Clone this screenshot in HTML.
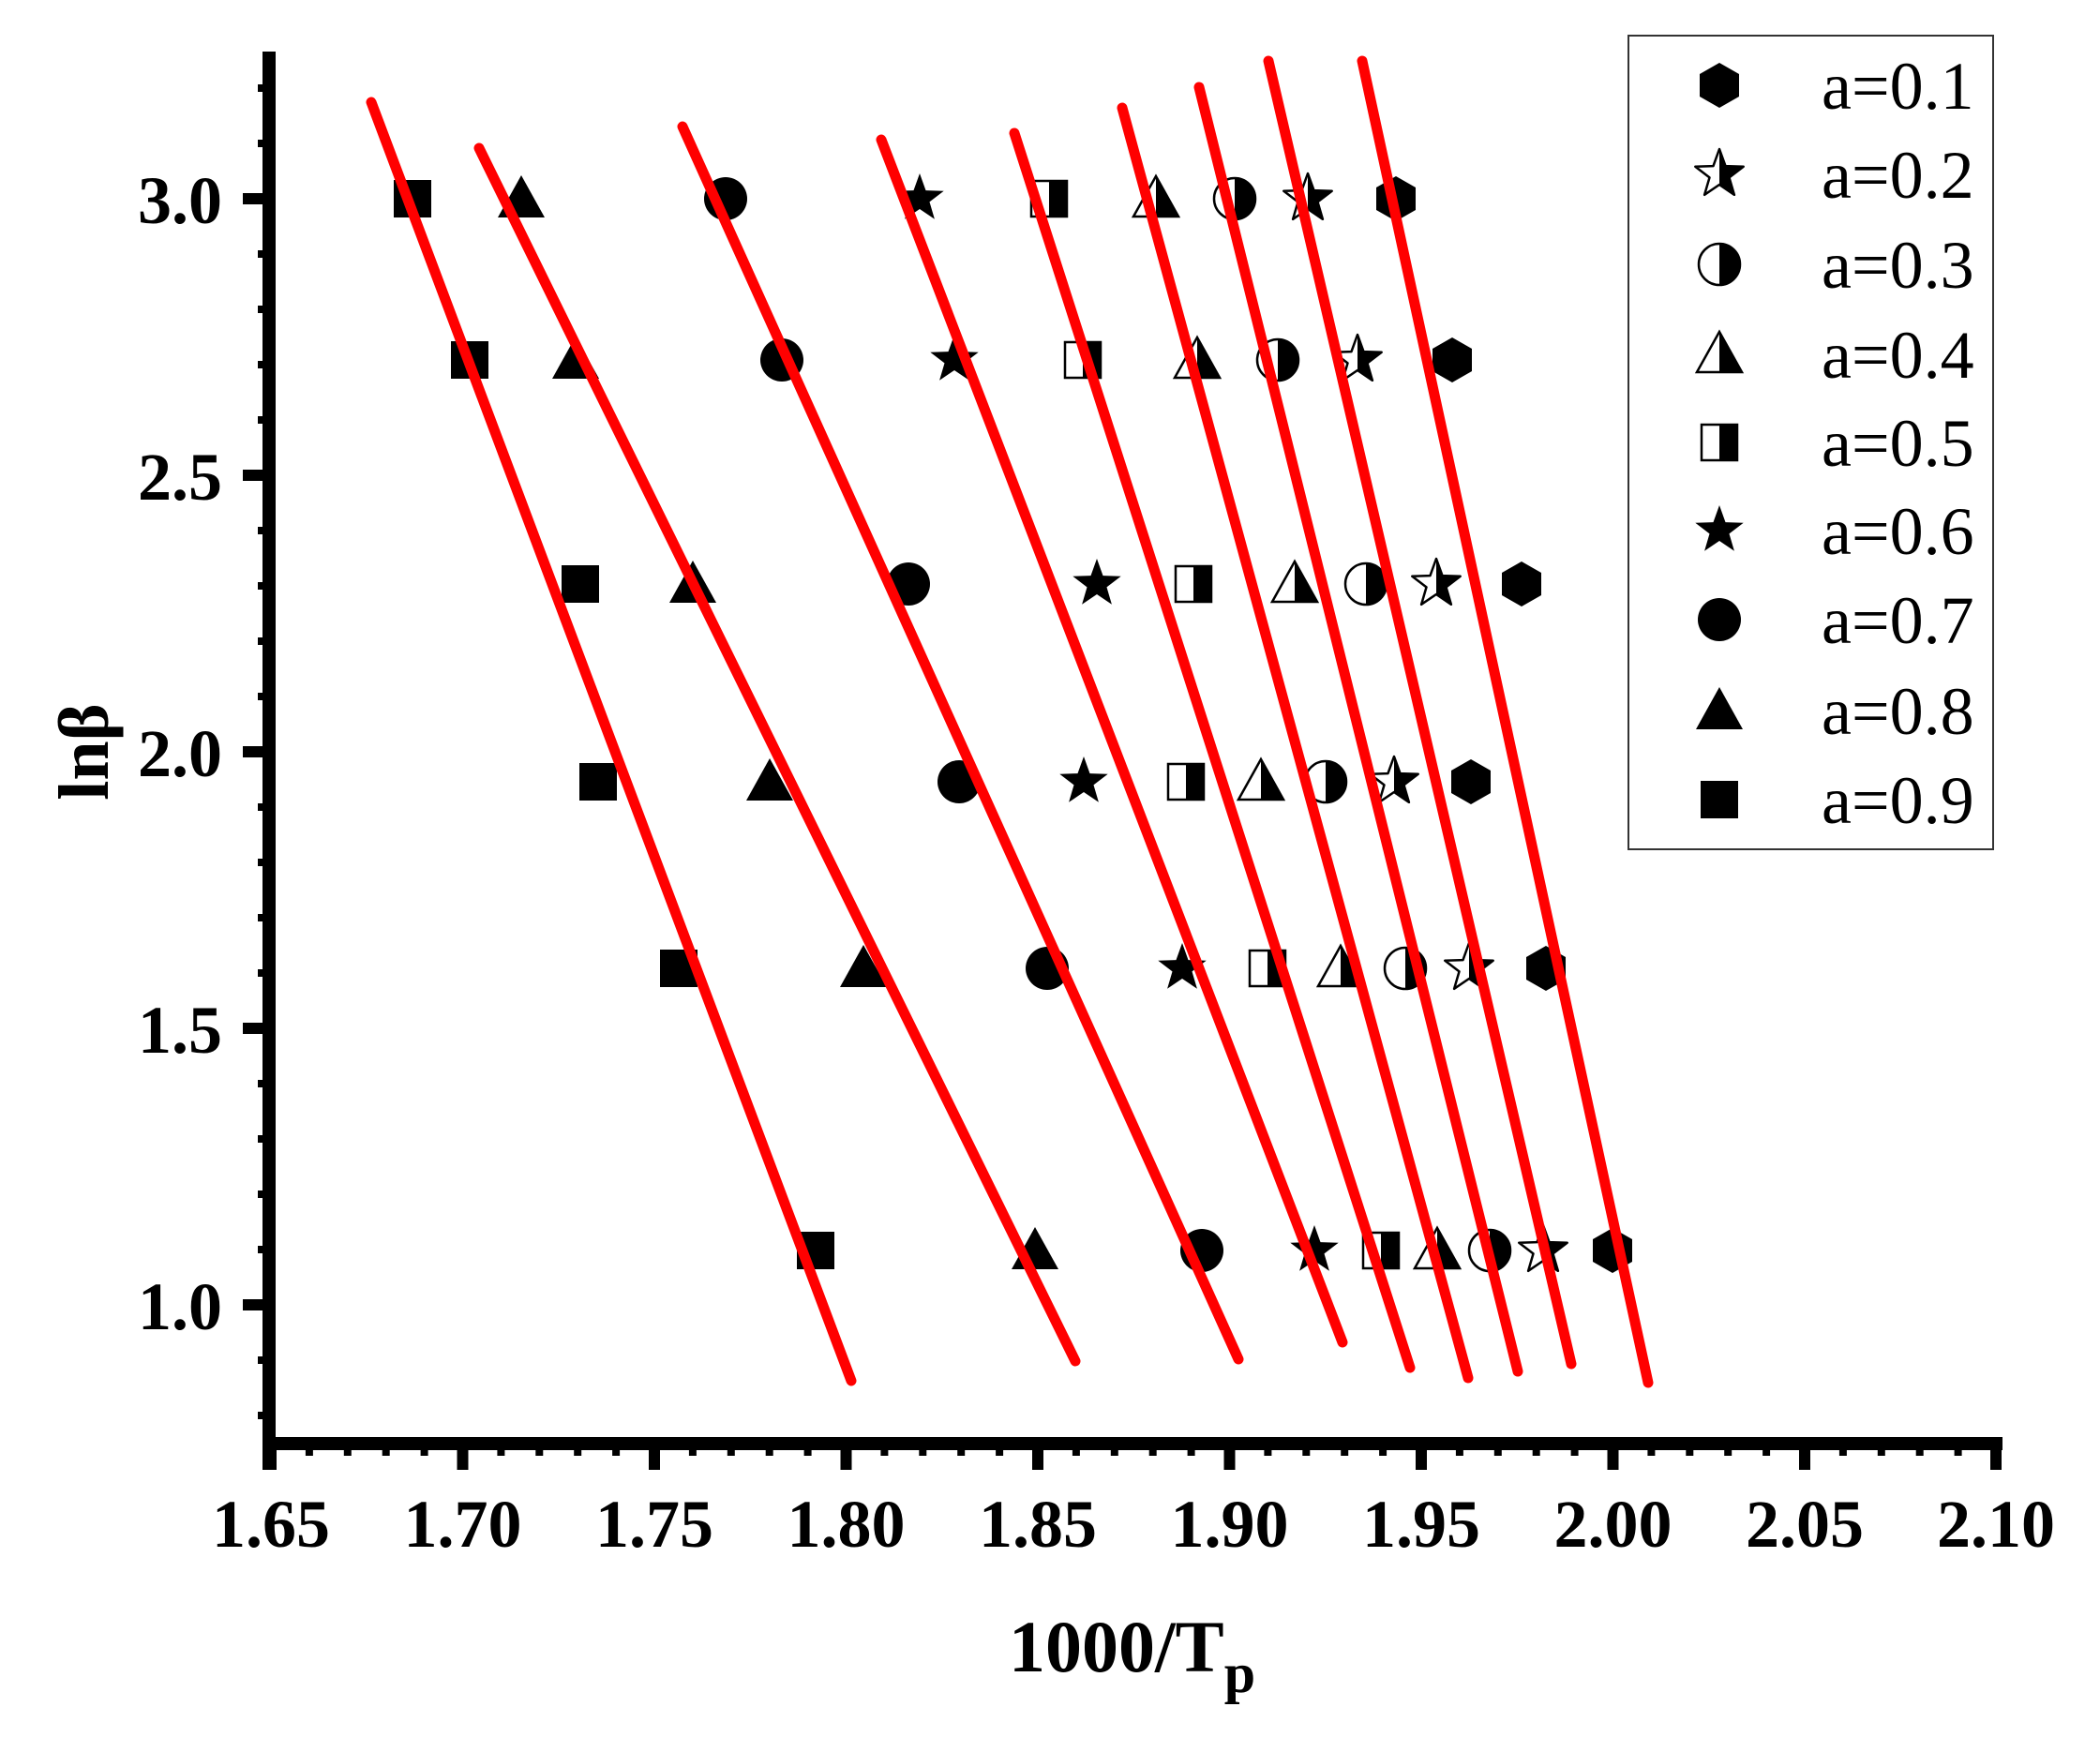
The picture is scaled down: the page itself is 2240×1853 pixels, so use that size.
<!DOCTYPE html>
<html><head><meta charset="utf-8"><style>
html,body{margin:0;padding:0;background:#fff;}
svg{display:block;}
</style></head><body>
<svg xmlns="http://www.w3.org/2000/svg" width="2240" height="1853" viewBox="0 0 2240 1853">
<defs>
<clipPath id="rh"><rect x="0" y="-40" width="40" height="80"/></clipPath>
<g id="hex"><polygon points="0,-24 21,-12 21,12 0,24 -21,12 -21,-12" fill="#000"/></g>
<g id="star"><polygon points="0,-27 6.5,-8.9 25.7,-8.3 10.5,3.4 15.9,21.8 0,11 -15.9,21.8 -10.5,3.4 -25.7,-8.3 -6.5,-8.9" fill="#000"/></g>
<g id="hstar"><polygon points="0,-27 6.5,-8.9 25.7,-8.3 10.5,3.4 15.9,21.8 0,11 -15.9,21.8 -10.5,3.4 -25.7,-8.3 -6.5,-8.9" fill="#fff" stroke="#000" stroke-width="2.5" stroke-linejoin="round"/><polygon clip-path="url(#rh)" points="0,-27 6.5,-8.9 25.7,-8.3 10.5,3.4 15.9,21.8 0,11 -15.9,21.8 -10.5,3.4 -25.7,-8.3 -6.5,-8.9" fill="#000"/></g>
<g id="circ"><circle r="23" fill="#000"/></g>
<g id="hcirc"><circle r="22" fill="#fff" stroke="#000" stroke-width="2.5"/><circle r="23" fill="#000" clip-path="url(#rh)"/></g>
<g id="tri"><polygon points="0,-25 25,20 -25,20" fill="#000"/></g>
<g id="htri"><polygon points="0,-24 24,19 -24,19" fill="#fff" stroke="#000" stroke-width="2.5"/><polygon points="0,-25 25,20 -25,20" fill="#000" clip-path="url(#rh)"/></g>
<g id="sq"><rect x="-20" y="-20" width="40" height="40" fill="#000"/></g>
<g id="hsq"><rect x="-19" y="-19" width="38" height="38" fill="#fff" stroke="#000" stroke-width="2.5"/><rect x="0" y="-20" width="20" height="40" fill="#000"/></g>
</defs>

<g id="markers">
<use href="#sq" x="440" y="212"/><use href="#sq" x="501" y="384"/><use href="#sq" x="619" y="623"/><use href="#sq" x="638" y="834"/><use href="#sq" x="724" y="1033"/><use href="#sq" x="870" y="1334"/>
<use href="#tri" x="556" y="212"/><use href="#tri" x="614" y="384"/><use href="#tri" x="739" y="623"/><use href="#tri" x="821" y="834"/><use href="#tri" x="921" y="1033"/><use href="#tri" x="1104" y="1334"/>
<use href="#circ" x="774" y="212"/><use href="#circ" x="834" y="384"/><use href="#circ" x="969" y="623"/><use href="#circ" x="1023" y="834"/><use href="#circ" x="1117" y="1033"/><use href="#circ" x="1282" y="1334"/>
<use href="#star" x="981" y="212"/><use href="#star" x="1018" y="384"/><use href="#star" x="1170" y="623"/><use href="#star" x="1156" y="834"/><use href="#star" x="1261" y="1033"/><use href="#star" x="1402" y="1334"/>
<use href="#hsq" x="1119" y="212"/><use href="#hsq" x="1155" y="384"/><use href="#hsq" x="1273" y="623"/><use href="#hsq" x="1265" y="834"/><use href="#hsq" x="1352" y="1033"/><use href="#hsq" x="1473" y="1334"/>
<use href="#htri" x="1233" y="212"/><use href="#htri" x="1277" y="384"/><use href="#htri" x="1381" y="623"/><use href="#htri" x="1345" y="834"/><use href="#htri" x="1430" y="1033"/><use href="#htri" x="1533" y="1334"/>
<use href="#hcirc" x="1317" y="212"/><use href="#hcirc" x="1363" y="384"/><use href="#hcirc" x="1457" y="623"/><use href="#hcirc" x="1414" y="834"/><use href="#hcirc" x="1499" y="1033"/><use href="#hcirc" x="1589" y="1334"/>
<use href="#hstar" x="1395" y="212"/><use href="#hstar" x="1448" y="384"/><use href="#hstar" x="1532" y="623"/><use href="#hstar" x="1487" y="834"/><use href="#hstar" x="1567" y="1033"/><use href="#hstar" x="1646" y="1334"/>
<use href="#hex" x="1489" y="212"/><use href="#hex" x="1549" y="384"/><use href="#hex" x="1623" y="623"/><use href="#hex" x="1569" y="834"/><use href="#hex" x="1649" y="1033"/><use href="#hex" x="1720" y="1334"/>
</g>

<g stroke="#ff0000" stroke-width="11" stroke-linecap="round" fill="none">
<line x1="396" y1="109" x2="908" y2="1473"/>
<line x1="511" y1="158" x2="1147" y2="1452"/>
<line x1="728" y1="135" x2="1321" y2="1450"/>
<line x1="940" y1="149" x2="1432" y2="1432"/>
<line x1="1082" y1="142" x2="1504" y2="1459"/>
<line x1="1197" y1="115" x2="1566" y2="1470"/>
<line x1="1279" y1="93" x2="1619" y2="1463"/>
<line x1="1353" y1="65" x2="1676" y2="1455"/>
<line x1="1453" y1="65" x2="1758" y2="1475"/>
</g>

<g fill="#000">
<rect x="280" y="55" width="14" height="1513"/>
<rect x="280" y="1533" width="1856" height="14"/>
</g>
<g stroke="#000">
<g stroke-width="12">
<line x1="259" y1="212" x2="287" y2="212"/><line x1="259" y1="507" x2="287" y2="507"/><line x1="259" y1="802" x2="287" y2="802"/><line x1="259" y1="1097" x2="287" y2="1097"/><line x1="259" y1="1392" x2="287" y2="1392"/>
</g>
<g stroke-width="8">
<line x1="275" y1="94" x2="287" y2="94"/><line x1="275" y1="153" x2="287" y2="153"/><line x1="275" y1="271" x2="287" y2="271"/><line x1="275" y1="330" x2="287" y2="330"/><line x1="275" y1="389" x2="287" y2="389"/><line x1="275" y1="448" x2="287" y2="448"/><line x1="275" y1="566" x2="287" y2="566"/><line x1="275" y1="625" x2="287" y2="625"/><line x1="275" y1="684" x2="287" y2="684"/><line x1="275" y1="743" x2="287" y2="743"/><line x1="275" y1="861" x2="287" y2="861"/><line x1="275" y1="920" x2="287" y2="920"/><line x1="275" y1="979" x2="287" y2="979"/><line x1="275" y1="1038" x2="287" y2="1038"/><line x1="275" y1="1156" x2="287" y2="1156"/><line x1="275" y1="1215" x2="287" y2="1215"/><line x1="275" y1="1274" x2="287" y2="1274"/><line x1="275" y1="1333" x2="287" y2="1333"/><line x1="275" y1="1451" x2="287" y2="1451"/><line x1="275" y1="1510" x2="287" y2="1510"/>
</g>
</g>
<g stroke="#000">
<g stroke-width="12">
<line x1="289" y1="1540" x2="289" y2="1568"/><line x1="493.5" y1="1540" x2="493.5" y2="1568"/><line x1="698" y1="1540" x2="698" y2="1568"/><line x1="902.5" y1="1540" x2="902.5" y2="1568"/><line x1="1107" y1="1540" x2="1107" y2="1568"/><line x1="1311.5" y1="1540" x2="1311.5" y2="1568"/><line x1="1516" y1="1540" x2="1516" y2="1568"/><line x1="1720.5" y1="1540" x2="1720.5" y2="1568"/><line x1="1925" y1="1540" x2="1925" y2="1568"/><line x1="2129" y1="1540" x2="2129" y2="1568"/>
</g>
<g stroke-width="8">
<line x1="329.9" y1="1540" x2="329.9" y2="1553"/><line x1="370.8" y1="1540" x2="370.8" y2="1553"/><line x1="411.7" y1="1540" x2="411.7" y2="1553"/><line x1="452.6" y1="1540" x2="452.6" y2="1553"/>
<line x1="534.4" y1="1540" x2="534.4" y2="1553"/><line x1="575.3" y1="1540" x2="575.3" y2="1553"/><line x1="616.2" y1="1540" x2="616.2" y2="1553"/><line x1="657.1" y1="1540" x2="657.1" y2="1553"/>
<line x1="738.9" y1="1540" x2="738.9" y2="1553"/><line x1="779.8" y1="1540" x2="779.8" y2="1553"/><line x1="820.7" y1="1540" x2="820.7" y2="1553"/><line x1="861.6" y1="1540" x2="861.6" y2="1553"/>
<line x1="943.4" y1="1540" x2="943.4" y2="1553"/><line x1="984.3" y1="1540" x2="984.3" y2="1553"/><line x1="1025.2" y1="1540" x2="1025.2" y2="1553"/><line x1="1066.1" y1="1540" x2="1066.1" y2="1553"/>
<line x1="1147.9" y1="1540" x2="1147.9" y2="1553"/><line x1="1188.8" y1="1540" x2="1188.8" y2="1553"/><line x1="1229.7" y1="1540" x2="1229.7" y2="1553"/><line x1="1270.6" y1="1540" x2="1270.6" y2="1553"/>
<line x1="1352.4" y1="1540" x2="1352.4" y2="1553"/><line x1="1393.3" y1="1540" x2="1393.3" y2="1553"/><line x1="1434.2" y1="1540" x2="1434.2" y2="1553"/><line x1="1475.1" y1="1540" x2="1475.1" y2="1553"/>
<line x1="1556.9" y1="1540" x2="1556.9" y2="1553"/><line x1="1597.8" y1="1540" x2="1597.8" y2="1553"/><line x1="1638.7" y1="1540" x2="1638.7" y2="1553"/><line x1="1679.6" y1="1540" x2="1679.6" y2="1553"/>
<line x1="1761.4" y1="1540" x2="1761.4" y2="1553"/><line x1="1802.3" y1="1540" x2="1802.3" y2="1553"/><line x1="1843.2" y1="1540" x2="1843.2" y2="1553"/><line x1="1884.1" y1="1540" x2="1884.1" y2="1553"/>
<line x1="1965.9" y1="1540" x2="1965.9" y2="1553"/><line x1="2006.8" y1="1540" x2="2006.8" y2="1553"/><line x1="2047.7" y1="1540" x2="2047.7" y2="1553"/><line x1="2088.6" y1="1540" x2="2088.6" y2="1553"/>
</g>
</g>

<g font-family="Liberation Serif, serif" font-weight="bold" font-size="72" fill="#000">
<g text-anchor="end">
<text x="237" y="238">3.0</text>
<text x="237" y="533">2.5</text>
<text x="237" y="828">2.0</text>
<text x="237" y="1123">1.5</text>
<text x="237" y="1418">1.0</text>
</g>
<g text-anchor="middle">
<text x="289" y="1650">1.65</text><text x="493.5" y="1650">1.70</text><text x="698" y="1650">1.75</text><text x="902.5" y="1650">1.80</text><text x="1107" y="1650">1.85</text><text x="1311.5" y="1650">1.90</text><text x="1516" y="1650">1.95</text><text x="1720.5" y="1650">2.00</text><text x="1925" y="1650">2.05</text><text x="2129" y="1650">2.10</text>
</g>
<text x="1076" y="1783" font-size="78">1000/T<tspan font-size="60" dy="22">p</tspan></text>
<text transform="translate(115,802) rotate(-90)" text-anchor="middle" font-size="76">lnβ</text>
</g>

<rect x="1737" y="38" width="389" height="868" fill="#fff" stroke="#333" stroke-width="2"/>
<use href="#hex" x="1834" y="91"/>
<use href="#hstar" x="1834" y="186"/>
<use href="#hcirc" x="1834" y="282"/>
<use href="#htri" x="1834" y="378"/>
<use href="#hsq" x="1834" y="472"/>
<use href="#star" x="1834" y="566"/>
<use href="#circ" x="1834" y="661"/>
<use href="#tri" x="1834" y="758"/>
<use href="#sq" x="1834" y="853"/>
<g font-family="Liberation Serif, serif" font-size="72" fill="#000">
<text x="1943" y="116">a=0.1</text>
<text x="1943" y="211">a=0.2</text>
<text x="1943" y="307">a=0.3</text>
<text x="1943" y="403">a=0.4</text>
<text x="1943" y="497">a=0.5</text>
<text x="1943" y="591">a=0.6</text>
<text x="1943" y="686">a=0.7</text>
<text x="1943" y="783">a=0.8</text>
<text x="1943" y="878">a=0.9</text>
</g>
</svg>
</body></html>
